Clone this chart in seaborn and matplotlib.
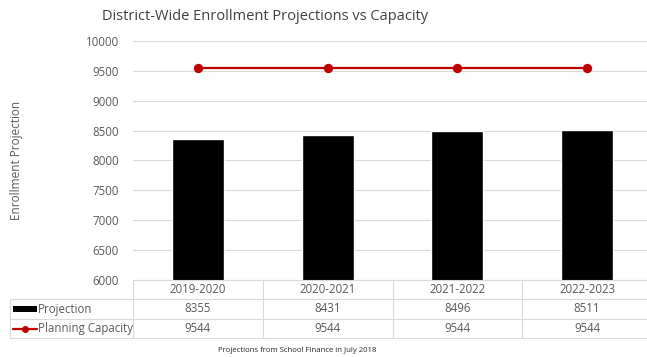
import matplotlib
matplotlib.use("Agg")
import matplotlib.pyplot as plt
import matplotlib.transforms as mtransforms
from matplotlib.lines import Line2D
from matplotlib.patches import Rectangle
import pandas as pd
import seaborn as sns

# Chart data
years = ["2019-2020", "2020-2021", "2021-2022", "2022-2023"]
projection = [8355, 8431, 8496, 8511]
planning_capacity = [9544, 9544, 9544, 9544]
series_names = ["Projection", "Planning Capacity"]
y_ticks = [6000, 6500, 7000, 7500, 8000, 8500, 9000, 9500, 10000]

TEXT = "#595959"
GRID = "#d9d9d9"
RED = "#c00000"
FONT = ["Open Sans", "DejaVu Sans"]

sns.set_style("white")
plt.rcParams["font.family"] = FONT

W, H = 647, 357
fig = plt.figure(figsize=(W / 100, H / 100), dpi=100)


def fy(py):
    return 1 - py / H


def fx(px):
    return px / W


ax_left, ax_right, ax_top, ax_bottom = 133, 652, 41, 280
ax = fig.add_axes([fx(ax_left), fy(ax_bottom), fx(ax_right - ax_left), (ax_bottom - ax_top) / H])

df = pd.DataFrame({"year": years, "projection": projection, "capacity": planning_capacity})

sns.barplot(data=df, x="year", y="projection", color="black", width=0.4,
            saturation=1, ax=ax, zorder=2)
sns.pointplot(data=df, x="year", y="capacity", color=RED, markers="o",
              markersize=5.5, linewidth=1.6, ax=ax, zorder=3)

ax.set_xlim(-0.5, len(years) - 0.5)
ax.set_ylim(y_ticks[0], y_ticks[-1])
ax.set_yticks(y_ticks)
ax.set_yticklabels([str(t) for t in y_ticks], color=TEXT, fontsize=8.3)
ax.tick_params(axis="y", length=0, pad=10)
ax.set_xticks([])
ax.set_xlabel("")
ax.set_ylabel("")
ax.grid(axis="y", color=GRID, linewidth=0.8, zorder=0)
ax.set_axisbelow(True)
for side, sp in ax.spines.items():
    sp.set_visible(False)

fig.text(fx(17), fy((ax_top + ax_bottom) / 2), "Enrollment Projection",
         rotation=90, ha="center", va="center", color=TEXT, fontsize=8.5)

fig.text(fx(265), fy(17), "District-Wide Enrollment Projections vs Capacity",
         ha="center", va="center", fontsize=10.5, color="#404040")

# Data table under the plot
blend = mtransforms.blended_transform_factory(ax.transData, fig.transFigure)
row_lines = [280, 299, 319, 338]
lw = 0.8

# horizontal rules
fig.add_artist(Line2D([fx(ax_left), 1], [fy(280), fy(280)], color=GRID, lw=lw))
for py in row_lines[1:]:
    fig.add_artist(Line2D([fx(10), 1], [fy(py), fy(py)], color=GRID, lw=lw))
# vertical rules
fig.add_artist(Line2D([fx(10), fx(10)], [fy(299), fy(338)], color=GRID, lw=lw))
for i in range(len(years) + 1):
    xb = i - 0.5
    fig.add_artist(Line2D([xb, xb], [fy(280), fy(338)], color=GRID, lw=lw,
                          transform=blend))

# cell text
row_mid = [(a + b) / 2 for a, b in zip(row_lines[:-1], row_lines[1:])]
for i, yr in enumerate(years):
    fig.text(i, fy(row_mid[0]), yr, transform=blend, ha="center", va="center",
             fontsize=8.3, color=TEXT)
    fig.text(i, fy(row_mid[1]), str(projection[i]), transform=blend, ha="center",
             va="center", fontsize=8.3, color=TEXT)
    fig.text(i, fy(row_mid[2]), str(planning_capacity[i]), transform=blend,
             ha="center", va="center", fontsize=8.3, color=TEXT)

# row headers with legend keys
fig.add_artist(Rectangle((fx(13), fy(row_mid[1] + 3)), fx(24), 6 / H,
                         facecolor="black", edgecolor="none"))
fig.add_artist(Line2D([fx(13), fx(37)], [fy(row_mid[2]), fy(row_mid[2])],
                      color=RED, lw=1.6))
fig.add_artist(Line2D([fx(25)], [fy(row_mid[2])], color=RED, marker="o",
                      markersize=4, lw=0))
fig.text(fx(38), fy(row_mid[1]), series_names[0], ha="left", va="center",
         fontsize=8.3, color=TEXT)
fig.text(fx(38), fy(row_mid[2]), series_names[1], ha="left", va="center",
         fontsize=8.3, color=TEXT)

fig.text(fx(297), fy(350), "Projections from School Finance in July 2018",
         ha="center", va="center", fontsize=5.6, color="#262626")

fig.savefig("out.png", dpi=100, facecolor="white")
